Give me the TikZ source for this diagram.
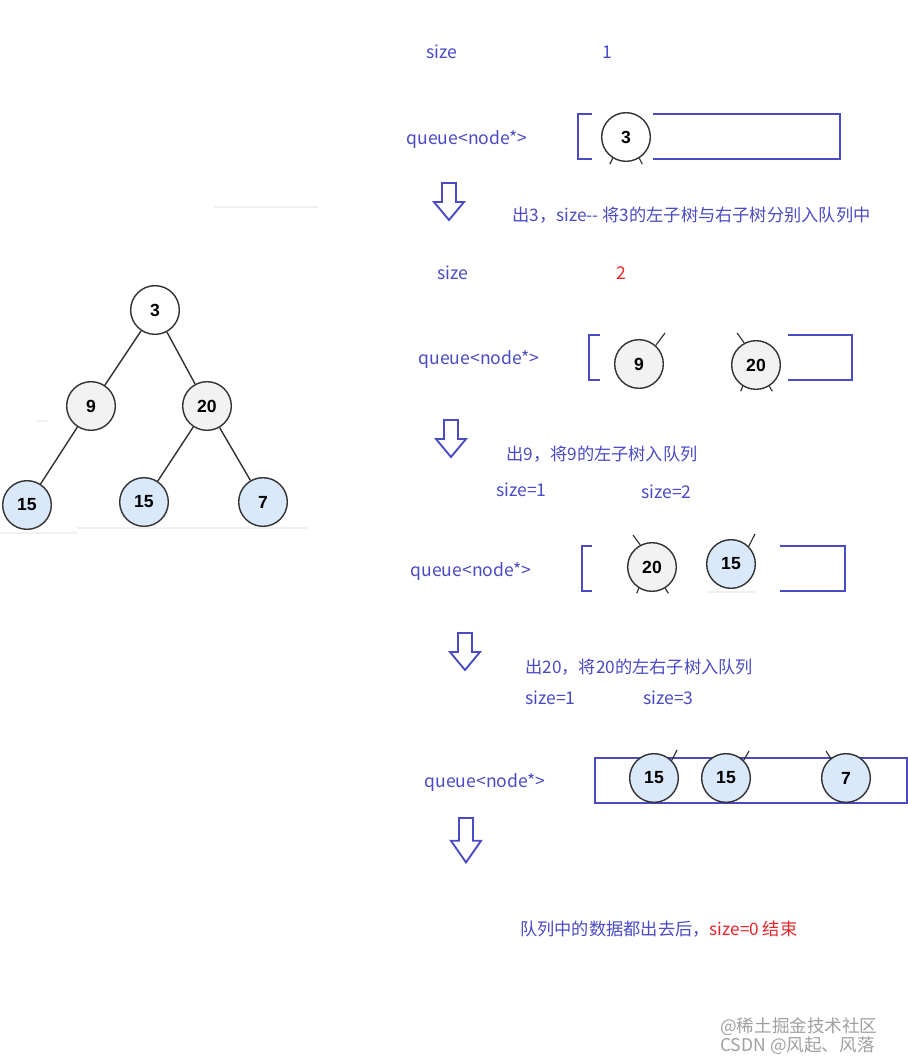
\documentclass[tikz,border=0pt]{standalone}
\usepackage{fontspec}
\setmainfont{Noto Sans CJK SC}
\newfontfamily\treefont{Liberation Sans}
\definecolor{qblue}{HTML}{4A4AC4}
\definecolor{qred}{HTML}{E8262A}
\definecolor{nodeblue}{HTML}{DAE8FC}
\definecolor{nodegray}{HTML}{F2F2F2}
\tikzset{
  tnode/.style={circle, draw=black!80, line width=1.2pt, minimum size=1.46cm, inner sep=0pt,
    font=\treefont\bfseries\fontsize{15}{15}\selectfont},
  graynode/.style={tnode, fill=nodegray},
  bluenode/.style={tnode, fill=nodeblue},
  txt/.style={text=qblue, inner sep=0pt, yshift=-2pt, font=\fontsize{15}{17}\selectfont},
  cjktxt/.style={txt, font=\fontsize{14.7}{17}\selectfont},
  qline/.style={draw=qblue, line width=1.8pt},
  stub/.style={draw=black!80, line width=1pt},
  faint/.style={draw=gray!12, line width=2.5pt},
  downarrow/.pic={
    \draw[qblue, line width=1.6pt, line join=miter]
      (-7,0) -- (7,0) -- (7,19) -- (15,19) -- (0,37) -- (-15,19) -- (-7,19) -- cycle;}
}
\begin{document}
\begin{tikzpicture}[x=0.03cm, y=-0.03cm]
\useasboundingbox (0,0) rectangle (908,1061);

% the tree
\node[tnode, fill=white] (t3) at (155,310) {3};
\node[graynode] (t9) at (91,406) {9};
\node[graynode] (t20) at (207,406) {20};
\node[bluenode] (t15a) at (27,505) {15};
\node[bluenode] (t15b) at (144,502) {15};
\node[bluenode] (t7) at (263,502) {7};
\draw[stub, line width=1.2pt] (t3) -- (t9) (t3) -- (t20) (t9) -- (t15a)
  (t20) -- (t15b) (t20) -- (t7);
\draw[faint] (213,207) -- (318,207) (37,421) -- (48,421)
  (0,533) -- (77,533) (77,528) -- (307,528);

% step 1
\node[txt] (size1) at (442,49) {size};
\node[txt] (n1) at (607,50) {1};
\node[txt] (q1) at (467,137) {queue<node*>};
\node[graynode, fill=white] (q1a) at (626,137) {3};
\draw[stub] (q1a.-122) -- ++(-3,6) (q1a.-58) -- ++(3,6);
\draw[qline] (592,114) -| (578,159) -- (592,159);
\draw[qline] (653,114) -- (840,114) -- (840,159) -- (653,159);
\pic at (449,183) {downarrow};
\node[cjktxt, anchor=west] (s1) at (512,213) {出3，size-{}- 将3的左子树与右子树分别入队列中};

% step 2
\node[txt] (size2) at (453,270) {size};
\node[txt, text=qred] (n2) at (621,271) {2};
\node[txt] (q2) at (479,357) {queue<node*>};
\node[graynode] (q2a) at (639,364) {9};
\node[graynode] (q2b) at (756,365) {20};
\draw[stub] (q2a.48) -- (665,333);
\draw[stub] (q2b.118) -- (737,333) (q2b.-122) -- ++(-2,5) (q2b.-58) -- ++(3,5);
\draw[qline] (600,335) -| (589,380) -- (600,380);
\draw[qline] (788,335) -- (852,335) -- (852,380) -- (788,380);
\pic at (451,420) {downarrow};
\node[cjktxt, anchor=west] (s2) at (506,452) {出9，将9的左子树入队列};
\node[txt, anchor=west] (s2a) at (496,487) {size=1};
\node[txt, anchor=west] (s2b) at (641,489) {size=2};

% step 3
\node[txt] (q3) at (471,569) {queue<node*>};
\node[graynode] (q3a) at (652,567) {20};
\node[bluenode] (q3b) at (731,564) {15};
\draw[stub] (q3a.118) -- (633,535) (q3a.-122) -- ++(-2,5) (q3a.-58) -- ++(3,5);
\draw[stub] (q3b.45) -- (755,534);
\draw[faint, line width=1.5pt] (707,592) -- (755,592);
\draw[qline] (592,546) -| (582,591) -- (592,591);
\draw[qline] (780,546) -- (845,546) -- (845,591) -- (780,591);
\pic at (465,633) {downarrow};
\node[cjktxt, anchor=west] (s3) at (525,665) {出20，将20的左右子树入队列};
\node[txt, anchor=west] (s3a) at (525,695) {size=1};
\node[txt, anchor=west] (s3b) at (643,695) {size=3};

% step 4
\node[txt] (q4) at (485,780) {queue<node*>};
\draw[qline] (595,758) rectangle (907,803);
\node[bluenode] (q4a) at (654,778) {15};
\node[bluenode] (q4b) at (726,778) {15};
\node[bluenode] (q4c) at (846,778) {7};
\draw[stub] (q4a.45) -- (677,750) (q4b.45) -- (749,751) (q4c.128) -- (826,751);
\pic[yscale=1.2] at (466,818) {downarrow};

% end
\node[cjktxt, anchor=west] (fin) at (520,927) {队列中的数据都出去后，\textcolor{qred}{size=0 结束}};
\node[anchor=west, inner sep=0pt, yshift=-2pt, text=gray!75, font=\fontsize{15}{17}\selectfont] (wm1) at (720,1024) {@稀土掘金技术社区};
\node[anchor=west, inner sep=0pt, yshift=-2pt, text=gray!75, font=\fontsize{15}{17}\selectfont] (wm2) at (720,1043) {CSDN @风起、风落};
\end{tikzpicture}
\end{document}
